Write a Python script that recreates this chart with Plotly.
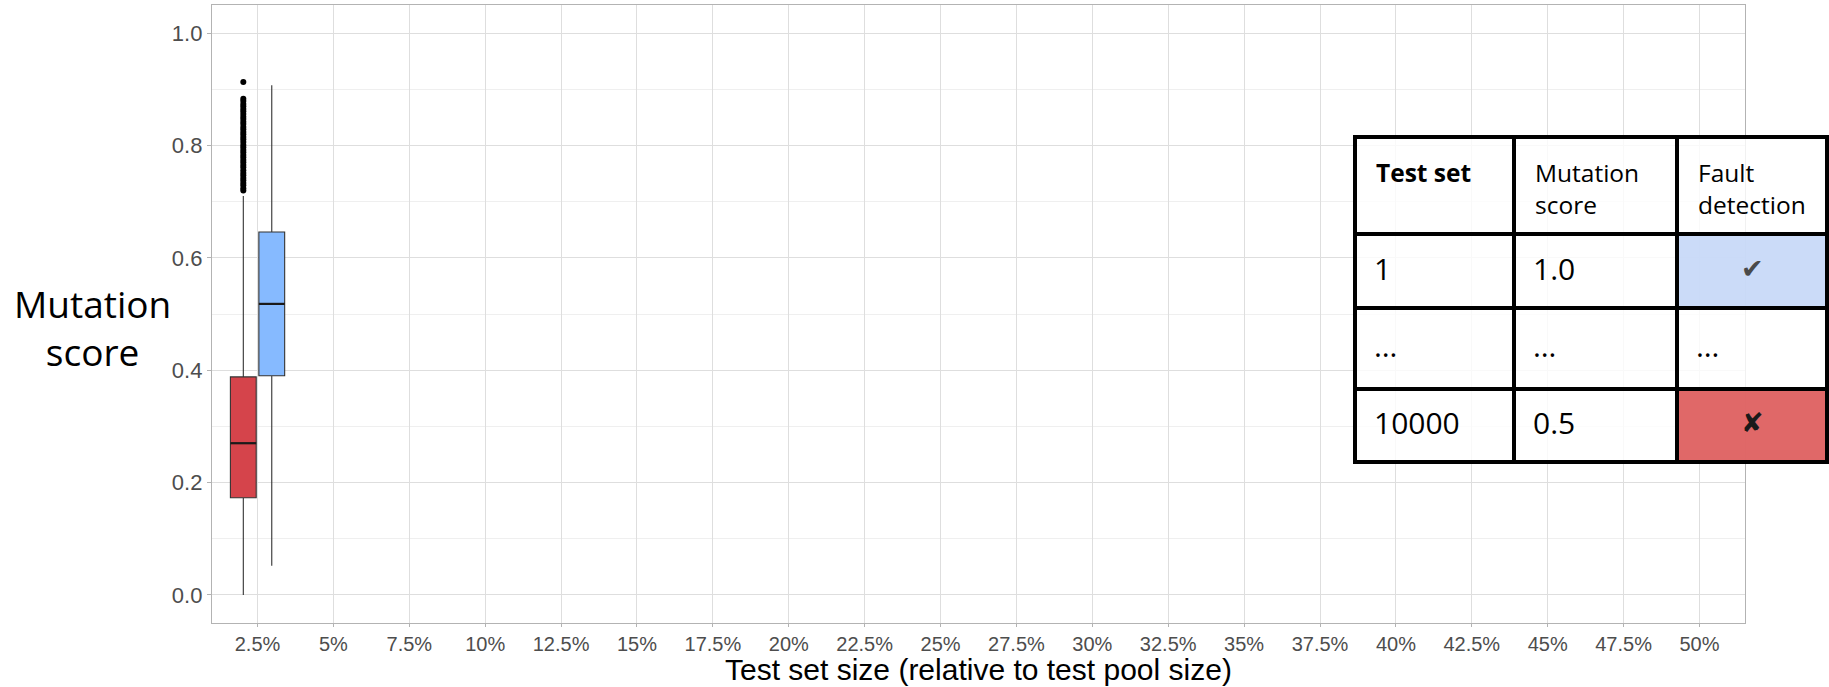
import plotly.graph_objects as go

# ---------------- data ----------------
categories = ["2.5%", "5%", "7.5%", "10%", "12.5%", "15%", "17.5%", "20%", "22.5%", "25%",
              "27.5%", "30%", "32.5%", "35%", "37.5%", "40%", "42.5%", "45%", "47.5%", "50%"]

box_category = "2.5%"
red_stats = dict(lowerfence=0.0, q1=0.173, median=0.270, q3=0.388, upperfence=0.71)
blue_stats = dict(lowerfence=0.052, q1=0.390, median=0.518, q3=0.646, upperfence=0.907)
red_outliers = [0.72, 0.724, 0.729, 0.733, 0.738, 0.742, 0.747, 0.751, 0.756, 0.761, 0.765,
                0.770, 0.774, 0.779, 0.783, 0.788, 0.792, 0.797, 0.801, 0.806, 0.811, 0.815,
                0.820, 0.824, 0.829, 0.833, 0.838, 0.842, 0.847, 0.851, 0.856, 0.861, 0.865,
                0.870, 0.874, 0.879, 0.883, 0.913]

table_header = ["Test set", "Mutation<br>score", "Fault<br>detection"]
table_col_test_set = ["1", "…", "10000"]
table_col_mutation = ["1.0", "…", "0.5"]
table_col_fault = ["✔", "…", "✘"]
table_fault_fill = ["rgba(201,218,248,0.97)", "rgba(255,255,255,0.82)", "rgba(224,102,102,0.99)"]

# ---------------- layout constants ----------------
W, H = 1829, 687
L, R, T, B = 212, 84, 5, 64
PW, PH = W - L - R, H - T - B
RED, BLUE = "#D5444B", "#86BAFF"
DODGE, BOX_W = 0.1875, 0.34


def px_x(px):
    return (px - L) / PW


def px_y(py):
    return (H - B - py) / PH


cat_idx = categories.index(box_category)
fig = go.Figure()
for stats, col, off in [(red_stats, RED, -DODGE), (blue_stats, BLUE, DODGE)]:
    pos = cat_idx + off
    fig.add_trace(go.Box(
        x=[pos], q1=[stats["q1"]], median=[stats["median"]], q3=[stats["q3"]],
        lowerfence=[stats["lowerfence"]], upperfence=[stats["upperfence"]],
        width=BOX_W, fillcolor=col, line=dict(color="#333333", width=1.1),
        whiskerwidth=0, boxpoints=False, showlegend=False, hoverinfo="skip"))
    # thicker median line (ggplot fatten)
    fig.add_trace(go.Scatter(
        x=[pos - BOX_W / 2, pos + BOX_W / 2], y=[stats["median"], stats["median"]],
        mode="lines", line=dict(color="#1a1a1a", width=2.2), showlegend=False, hoverinfo="skip"))

fig.add_trace(go.Scatter(
    x=[cat_idx - DODGE] * len(red_outliers), y=red_outliers, mode="markers",
    marker=dict(color="black", size=6), showlegend=False, hoverinfo="skip"))

tick_font = dict(family="Liberation Sans, Arial", size=20, color="#4D4D4D")
fig.update_xaxes(
    range=[-0.6, len(categories) - 0.4], tickvals=list(range(len(categories))),
    ticktext=categories, showgrid=True, gridcolor="#DEDEDE", gridwidth=1,
    showline=True, mirror=True, linecolor="#B3B3B3", linewidth=1.3,
    ticks="outside", ticklen=3, tickcolor="#B3B3B3", zeroline=False, tickfont=tick_font)
fig.update_yaxes(
    range=[-0.05, 1.05], tickvals=[0, 0.2, 0.4, 0.6, 0.8, 1.0],
    ticktext=["0.0", "0.2", "0.4", "0.6", "0.8", "1.0"],
    showgrid=True, gridcolor="#DEDEDE", gridwidth=1,
    minor=dict(tickvals=[0.1, 0.3, 0.5, 0.7, 0.9], showgrid=True, gridcolor="#EFEFEF", gridwidth=0.7),
    showline=True, mirror=True, linecolor="#B3B3B3", linewidth=1.3,
    ticks="outside", ticklen=4, tickcolor="#B3B3B3", zeroline=False,
    tickfont=dict(family="Liberation Sans, Arial", size=22, color="#4D4D4D"))

annotations = [
    dict(text="Mutation<br>score", xref="paper", yref="paper", x=px_x(92), y=px_y(327),
         xanchor="center", yanchor="middle", showarrow=False, align="center",
         font=dict(family="Open Sans", size=37, color="black")),
    dict(text="Test set size (relative to test pool size)", xref="paper", yref="paper",
         x=0.5, y=px_y(669), xanchor="center", yanchor="middle", showarrow=False,
         font=dict(family="Liberation Sans, Arial", size=30, color="black")),
]

# ---------------- table ----------------
col_edges = [1355, 1514, 1677, 1827]
row_edges = [137, 234, 308, 389, 462]
shapes = []
for ri in range(4):
    for ci in range(3):
        fill = "rgba(255,255,255,0.82)"
        if ci == 2 and ri >= 1:
            fill = table_fault_fill[ri - 1]
        shapes.append(dict(type="rect", xref="paper", yref="paper",
                           x0=px_x(col_edges[ci]), x1=px_x(col_edges[ci + 1]),
                           y0=px_y(row_edges[ri + 1]), y1=px_y(row_edges[ri]),
                           fillcolor=fill, line=dict(color="black", width=4), layer="above"))

font_t = "Open Sans"
for ci, h in enumerate(table_header):
    annotations.append(dict(
        text=("<b>%s</b>" % h) if ci == 0 else h, xref="paper", yref="paper",
        x=px_x(col_edges[ci] + 19), y=px_y(row_edges[0] + 17), xanchor="left", yanchor="top",
        align="left", showarrow=False, font=dict(family=font_t, size=24.5, color="black")))

for ri in range(3):
    yc = px_y((row_edges[ri + 1] + row_edges[ri + 2]) / 2 - 3)
    for ci, col in enumerate([table_col_test_set, table_col_mutation]):
        annotations.append(dict(
            text=col[ri], xref="paper", yref="paper", x=px_x(col_edges[ci] + 17), y=yc,
            xanchor="left", yanchor="middle", showarrow=False,
            font=dict(family=font_t, size=30, color="black")))
    fv = table_col_fault[ri]
    if fv == "…":
        annotations.append(dict(
            text=fv, xref="paper", yref="paper", x=px_x(col_edges[2] + 17), y=yc,
            xanchor="left", yanchor="middle", showarrow=False,
            font=dict(family=font_t, size=30, color="black")))
    else:
        annotations.append(dict(
            text=fv, xref="paper", yref="paper",
            x=px_x((col_edges[2] + col_edges[3]) / 2), y=yc,
            xanchor="center", yanchor="middle", showarrow=False,
            font=dict(family="DejaVu Sans", size=27, color="#4a4a4a" if fv == "✔" else "#1a1a1a")))

fig.update_layout(
    width=W, height=H, autosize=False,
    margin=dict(l=L, r=R, t=T, b=B),
    paper_bgcolor="white", plot_bgcolor="white",
    annotations=annotations, shapes=shapes, showlegend=False)

fig.write_html("out.html", config={"displayModeBar": False},
               post_script="document.body.style.margin='0';document.body.style.padding='0';")
